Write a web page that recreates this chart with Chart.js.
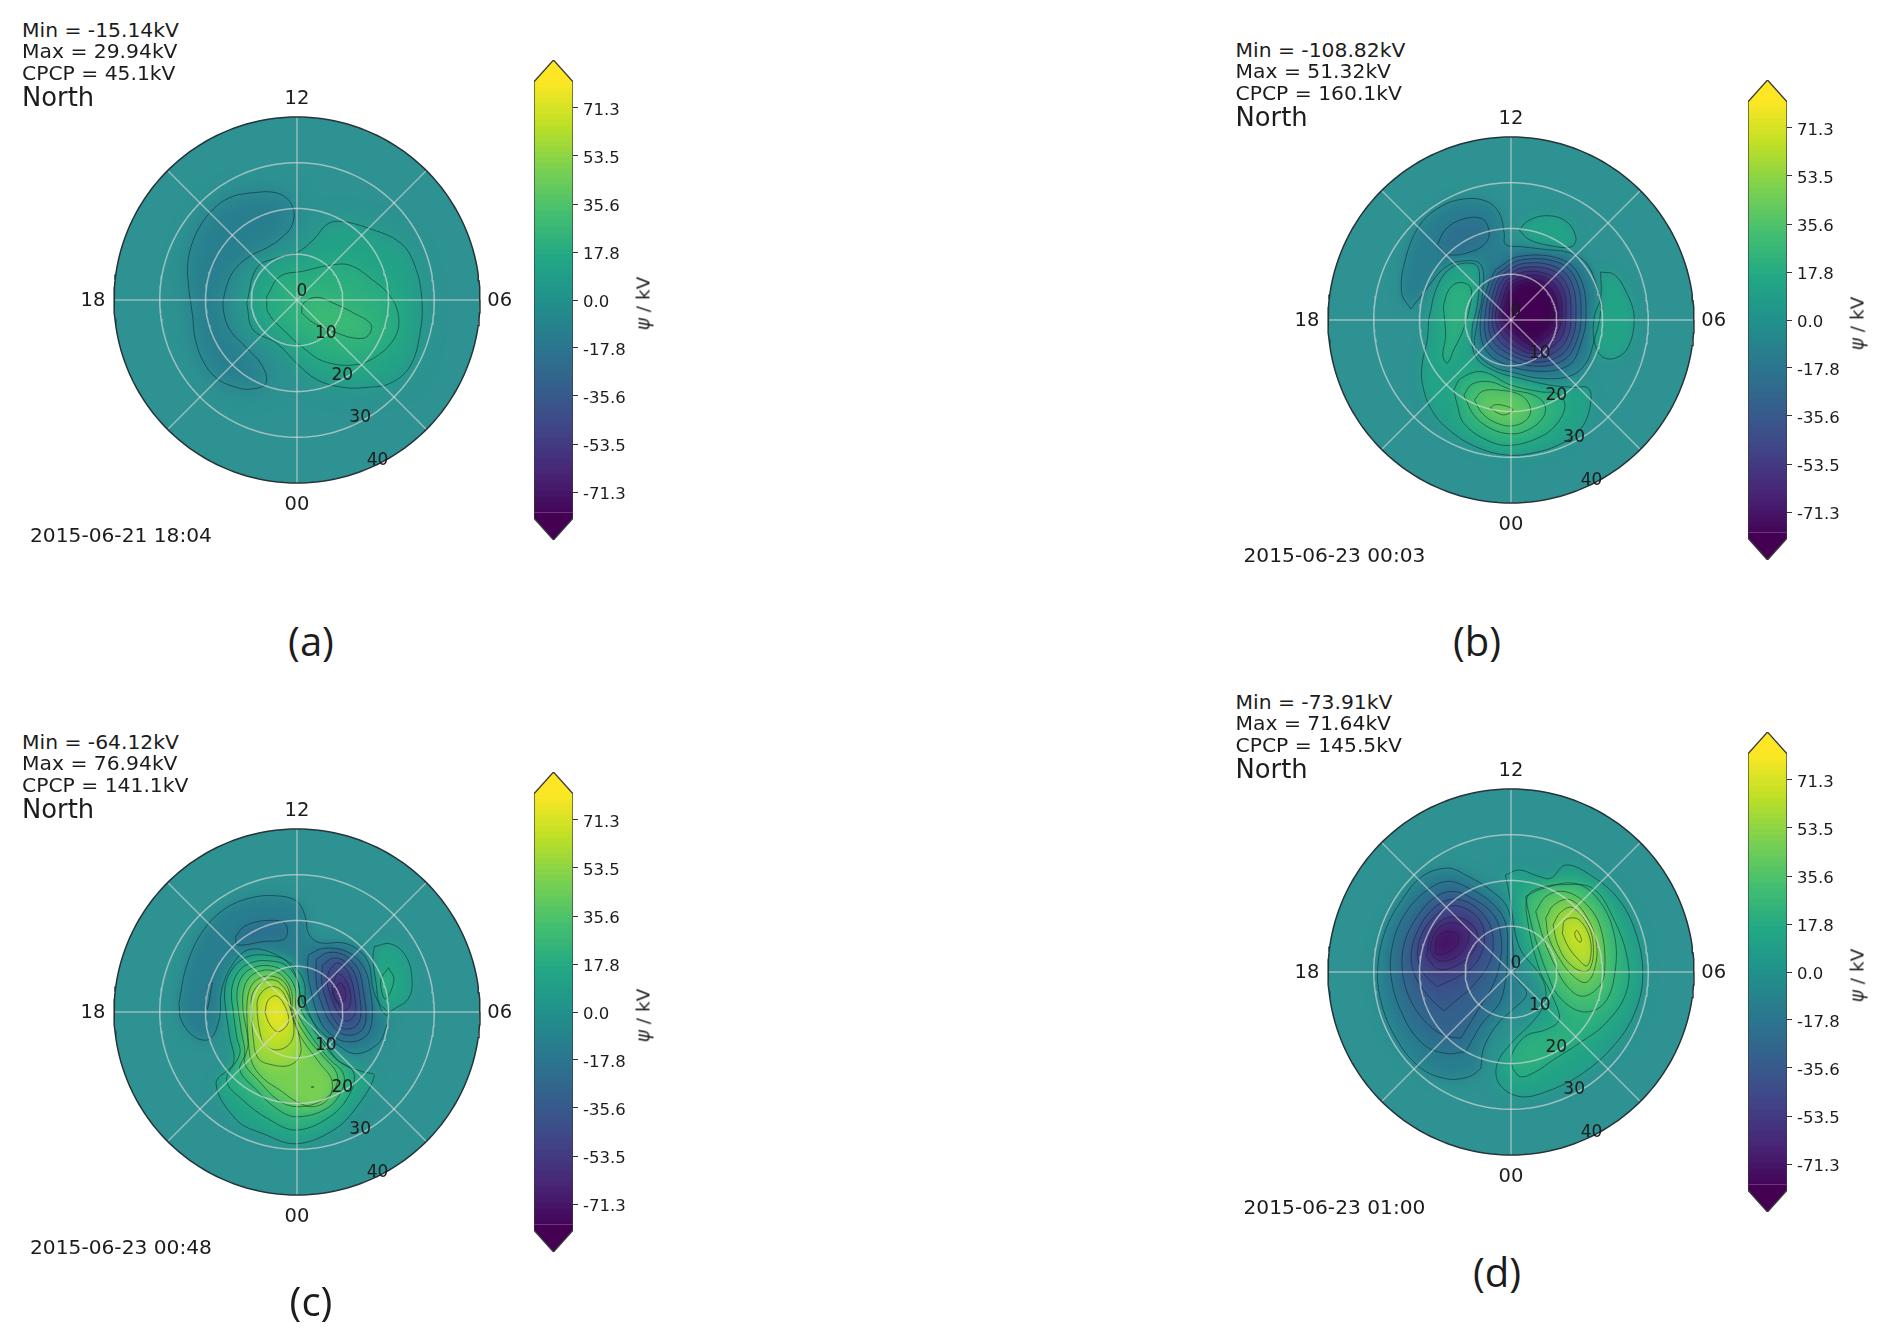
<!DOCTYPE html>
<html>
<head>
<meta charset="utf-8">
<title>Polar potential maps</title>
<script src="https://cdn.jsdelivr.net/npm/chart.js@4"></script>
<style>
  html, body { margin: 0; background: #fff; }
  #page { position: relative; width: 1892px; height: 1344px; overflow: hidden; font-family: "DejaVu Sans", sans-serif; color: #1c1c1c; }
  canvas { position: absolute; }
  .txt { position: absolute; white-space: nowrap; }
</style>
</head>
<body>
<div id="page"></div>
<script>
// Text of each panel
const minLabels = ['Min = -15.14kV', 'Min = -108.82kV', 'Min = -64.12kV', 'Min = -73.91kV'];
const maxLabels = ['Max = 29.94kV', 'Max = 51.32kV', 'Max = 76.94kV', 'Max = 71.64kV'];
const cpcpLabels = ['CPCP = 45.1kV', 'CPCP = 160.1kV', 'CPCP = 141.1kV', 'CPCP = 145.5kV'];
const dateLabels = ['2015-06-21 18:04', '2015-06-23 00:03', '2015-06-23 00:48', '2015-06-23 01:00'];
const captions = ['(a)', '(b)', '(c)', '(d)'];

// Axis labels
const hourLabels = ['12', '06', '00', '18'];
const radialLabels = ['0', '10', '20', '30', '40'];
const colorbarTicks = [71.3, 53.5, 35.6, 17.8, 0, -17.8, -35.6, -53.5, -71.3];

// Contours: level in kV, then x,y pairs in degrees of colatitude
const panelALevels = [-8.9, 8.9, 17.8, 26.7];
const panelAPaths = [
  [-10.3,23.4, -5.5,23.6, -2.3,22.3, -0.7,19.4, -1.2,16.1, -3.4,13.6, -6.6,11.4, -10.3,9.6, -13.9,6.3, -15.8,1.5, -16.1,-2.1, -14.7,-6.5, -11.4,-10.1, -7.7,-14.2, -6.8,-18.2, -10.3,-19.5, -13.9,-18.9, -17.6,-17.1, -20.5,-13.4, -22.3,-8.3, -22.8,-3.6, -23.7,3, -23.8,8.8, -21.6,15.4, -17.6,20.5, -13.9,22.7],
  [-11,-0.7, -9.6,-6.5, -4.5,-9.4, -0.1,-13.8, 4.3,-17.4, 10.1,-19.1, 15.3,-19.1, 20.4,-18.2, 24.7,-14.5, 26.9,-7.2, 27.3,0.1, 25.8,7.4, 22.6,12.5, 15.3,15.8, 9.4,17.2, 6.5,16.5, 3.6,13.2, -0.1,10.3, -4.5,9.2, -8.8,7],
  [-6.6,0.8, -6.3,-2.8, -2.3,-7.2, 1.4,-10.5, 5.8,-13.4, 12.3,-14.2, 17.4,-12.3, 21.5,-8, 22.2,-3.6, 20.4,0.8, 16,4.8, 11.6,7.6, 7.2,7.6, 1.4,6.3, -3.7,5.2],
  [1,-2.8, 1.4,-0.7, 4.3,0.6, 8,-0.7, 12.3,-2.8, 16.2,-5.4, 15.3,-8, 12.3,-8.3, 8,-6.9, 3.6,-5]
];

const panelBLevels = [-8.9, 8.9, 8.9, 8.9, 17.8, 17.8, -17.8, -17.8, -26.7, -35.6, -44.5, -53.4, -62.3, -71.2, -80.1, -89, -98, 26.7, 35.6, 44.5];
const panelBPaths = [
  [-21.9,2.4, -23.9,5.9, -23.1,13.2, -20.1,20.5, -15.8,24.5, -10.7,26.4, -5.5,26, -2.6,23.4, -1.5,19.1, -1.2,16.5, 2.5,16, 7.6,15.4, 12.7,14.7, 16.4,12.5, 18.5,8.1, 19.6,2.3, 18.2,-4.3, 16.4,-9.4, 12.7,-12.3, 6.1,-12.7, 1,-11.6, -4.1,-10.1, -7.7,-6.5, -7.4,-0.7, -6.3,5.2, -6.6,12.1, -11.4,12.8, -15,11, -18,7.4],
  [1.8,19.6, 3.6,21.6, 7.6,22.8, 12,21.6, 14.2,18, 13.1,16, 8.3,16.3, 3.9,17.6],
  [19.6,10.5, 22.6,9.9, 25.1,6.3, 26.9,0.8, 25.7,-5.8, 22.9,-8.3, 19.9,-8, 18.2,-4.7, 18.2,0.8, 19.6,4.8],
  [-18,0.1, -16.1,7.4, -12.8,11.6, -8.1,12.3, -6.9,10.3, -7.4,3, -8.5,-2.1, -7.7,-8, -3.4,-11.2, 1.8,-12.7, 8.3,-14.2, 13.4,-14.7, 16.9,-14.9, 17.4,-18.2, 15.6,-23.3, 11.2,-26.9, 4.7,-29.1, -1.2,-29.5, -7.7,-27.7, -13.6,-24, -17.4,-19.6, -19.4,-13.8, -19.4,-9.4, -18.3,-4.3],
  [-14.8,3, -13.6,6.6, -11.2,8.2, -8.8,7, -9.1,2.3, -10.7,-2.8, -12.5,-6.5, -13.9,-9.4, -14.9,-7.8, -14.3,-3.6],
  [-12.5,-15.3, -11,-12.8, -6.3,-11.3, -0.1,-14.2, 6.5,-15.7, 10.1,-16.1, 11.8,-18.6, 10.1,-22.6, 6.5,-25.5, -0.1,-27.4, -5.2,-26.3, -10.3,-22.6, -11.8,-18.3],
  [-16.1,16.5, -14.3,19.8, -10.7,22, -6.3,22.1, -4.8,19.4, -5.5,16.9, -8.5,15, -13.6,14.3],
  [-3.4,11, 1.8,13.9, 11.2,13.2, 15.3,8.8, 16.4,0.8, 15.3,-5, 12.7,-9.8, 6.1,-11.2, -1.9,-9.4, -5.9,-5.8, -6.6,0.8, -4.8,8.1],
  [-2.8,10.3, 2.1,13.1, 10.5,12.5, 14.3,8.5, 15.3,0.8, 14.3,-4.7, 11.6,-8.7, 5.8,-10.1, -1.2,-8.3, -5,-5, -5.7,0.8, -4.2,7.7],
  [-2.2,9.7, 2.5,12.3, 9.8,11.6, 13.3,8, 14.2,0.8, 13.3,-4.3, 10.7,-7.8, 5.4,-9.2, -0.4,-7.4, -4.1,-4.3, -4.8,0.8, -3.5,7.4],
  [-1.6,9.2, 2.6,11.4, 9.1,10.8, 12.3,7.4, 13.1,0.8, 12.3,-3.9, 9.8,-6.9, 5.3,-8.3, 0.1,-6.6, -3.2,-3.6, -4.1,0.8, -2.8,7],
  [-1,8.7, 2.8,10.5, 8.3,9.9, 11.4,6.8, 12,0.8, 11.2,-3.4, 8.9,-5.9, 5.3,-7.4, 0.9,-5.8, -2.3,-2.8, -3.4,0.8, -2,6.6],
  [-0.4,8.1, 3.1,9.7, 7.6,9.2, 10.5,6.1, 11.1,0.8, 10.1,-2.8, 8,-5, 5,-6.6, 1.5,-4.9, -1.5,-2.1, -2.6,0.8, -1.3,6.1],
  [0.1,7.5, 3.2,8.8, 6.9,8.3, 9.6,5.3, 10.2,0.8, 9.2,-2.1, 7,-4.2, 4.8,-5.6, 2.1,-3.9, -0.6,-1.4, -1.8,0.8, -0.7,5.3],
  [0.9,7, 3.4,8, 6.3,7.4, 8.8,4.6, 9.3,0.7, 8.3,-1.4, 6.1,-3.2, 4.7,-4.7, 2.6,-3, 0.3,-0.7, -0.7,0.8, 0,4.8],
  [1.8,6.3, 3.6,7.2, 5.8,6.6, 8,4.1, 8.5,0.7, 7.4,-1, 5.4,-2.5, 4.3,-3.7, 2.8,-2.1, 1.2,-0.3, 0.4,1.2, 0.9,4.1],
  [2.5,5.2, 3.8,6.1, 5.5,5.5, 7,3.4, 7.4,0.4, 6.3,-0.8, 4.8,-2, 3.8,-2.5, 2.5,-0.7, 1.8,1.2, 1.5,3],
  [-10.3,-16.4, -8.5,-14, -4.5,-13.5, -0.1,-15.2, 5,-16.4, 7.4,-18.6, 6.9,-21.5, 3.6,-24.1, -0.1,-24.9, -4.5,-23.7, -8.1,-20.8],
  [-8,-17.5, -6.3,-15.6, -3,-15.3, 2.1,-16.4, 4.2,-19, 3.7,-21.5, 0.7,-23.1, -3,-22.6, -6.3,-20.4],
  [-4.6,-19.2, -3.4,-18.5, -1.2,-18.8, 0.4,-19.6, -1.2,-20.7, -2.8,-20.4]
];

const panelCLevels = [-8.9, -17.8, -17.8, 8.9, 8.9, 17.8, 17.8, -17.8, -26.7, -35.6, -44.5, -53.4, -62.3, 26.7, 35.6, 44.5, 53.4, 62.3, 71.2, 53.4];
const panelCPaths = [
  [-25.8,1.9, -24.2,9.9, -20.9,17.2, -16.1,22.3, -10.3,24.9, -4.5,25.4, -0.1,24.2, 1.8,20.9, 2.5,17.2, 4.7,15.2, 10.9,14.9, 15.3,11.4, 16.7,4.8, 18,1.8, 19.9,-0.3, 19.3,-3.9, 17.4,-7.2, 12.7,-9.1, 8.3,-6.7, 4.3,-3.2, 1.4,1.9, -0.8,9.2, -4.5,12.5, -10.3,13.7, -13.9,10.7, -16.5,4.8, -16.9,-1, -18.9,-5.8, -22.3,-5.5, -25.3,-1.8],
  [-13.4,16.5, -11.4,18.8, -6.6,20, -2.6,19.3, -2.6,16.1, -7.4,15.4, -13.1,14.7],
  [-18.5,6.4, -19.6,0.6, -19.8,2.6, -19.1,5.8],
  [16.9,14.3, 20.4,14.9, 23.6,12.5, 25.1,7.7, 24.4,3, 20.7,0.3, 19.5,-0.7, 18,1.5, 17.3,6.3, 16.6,11.4],
  [-15.4,-1, -15.8,4.8, -14.3,9.2, -11,12, -6.5,12.4, -1.9,11, 1.4,7, 2.1,1.2, 5.8,-6.1, 9.4,-10.9, 14.5,-13.1, 16.9,-13.9, 13.1,-20.7, 8,-25.8, -0.1,-28.8, -7.4,-26.6, -13.2,-23.6, -17.7,-15.6, -13.9,-11.2, -14.7,-5.4],
  [20,9.7, 21.2,7, 19.3,2.8, 18.3,6.9],
  [-13.9,-0.3, -14.3,4.8, -12.8,8.8, -9.9,10.8, -6.3,11.2, -2.3,10.1, 0.3,6.3, 0.8,0.8, 4.7,-5.4, 8.3,-10.1, 12.3,-13.1, 11.6,-17.8, 7.2,-22.9, -0.1,-25.8, -5.9,-23.6, -11.8,-19.3, -15.4,-14.9, -12.5,-9.1, -13.2,-5.4],
  [2.5,12.5, 5.8,13.9, 10.9,13.2, 14.5,9.9, 16,4.8, 16.4,-1.8, 14.9,-5.4, 10.9,-6.5, 7.2,-4.7, 5,-1.8, 3.2,4.1, 2.3,9.2],
  [4.2,11.5, 6.9,13, 10.5,12.3, 13.4,9.2, 14.5,4.5, 15.1,-1.4, 13.8,-4.3, 10.5,-5, 8,-3.2, 5.9,0.4, 4.3,5.9],
  [5.6,10.3, 8,11.8, 10.5,11, 12.7,8.1, 13.7,3.4, 13.9,-1, 12.7,-3.2, 10.1,-3.6, 8,-1.4, 6.5,2.3, 5.4,6.6],
  [6.9,8.8, 8.7,10.7, 10.5,9.6, 12,6.6, 12.7,2.6, 12.7,-0.3, 10.9,-2, 9.1,-0.3, 7.6,3, 6.6,6.3],
  [8.7,8.5, 10.1,7.7, 11.5,4.8, 11.6,1.5, 10.1,0.3, 8.8,2.3, 7.7,4.8],
  [7.8,4.1, 9.3,6.3, 10.5,5, 10.5,3, 9,1.9],
  [-12.8,0.1, -13.1,4.5, -11.8,8.1, -9.2,9.8, -5.9,10.1, -2.8,8.8, -0.4,5.2, -0.1,0.4, 3.2,-5.4, 6.9,-10.1, 10.1,-13.4, 9.8,-17.1, 6.5,-21.1, -0.1,-22.9, -4.5,-21.1, -9.2,-16.7, -12.5,-12.7, -11.4,-9.1, -12.1,-4.7],
  [-11.8,0.1, -11.8,4.1, -10.7,7.2, -8.5,8.8, -5.5,9.1, -3,7.7, -1.2,4.5, -0.8,0.1, 2.1,-5.4, 5.8,-9.8, 8.7,-13.4, 8.3,-16.7, 5,-19.6, -0.1,-20.7, -4.1,-19.3, -8.5,-14.9, -11.4,-11.2, -10.7,-6.9],
  [-11,0.4, -10.7,3.7, -9.6,6.3, -7.4,7.7, -4.8,7.7, -2.6,6.3, -1.5,3.4, -1.2,-0.3, 0.8,-5.4, 5,-11.2, 7.6,-14.9, 6.9,-18.9, 3.6,-20.7, -0.1,-19.6, -3.7,-17.1, -7.4,-14.5, -9.9,-10.9, -10.7,-5.4],
  [-9.9,0.1, -9.9,3.4, -8.5,5.9, -6.3,7, -4.1,6.6, -1.9,3.7, -0.8,-1, 0.5,-5.4, 0.7,-9.4, -1.5,-11.6, -5.2,-11.6, -8.5,-10.1, -9.6,-5.4],
  [-8.7,-0.3, -8.5,3, -6.3,5.4, -3.7,5, -1.9,1.9, -0.7,-2.8, -1.4,-6.7, -4.5,-8.3, -7.2,-6.9, -8.2,-3.9],
  [-7,-0.1, -6.3,2.6, -4.5,3.5, -2.6,1.2, -1.9,-2.3, -4.1,-4.3, -5.9,-2.8],
  [3.1,-16.4, 3.6,-16.3, 3.6,-16.5]
];

const panelDLevels = [-8.9, -17.8, -26.7, -35.6, -44.5, -53.4, -62.3, -71.2, 8.9, 17.8, 26.7, 35.6, 44.5, 53.4, 62.3, 71.2];
const panelDPaths = [
  [-6.6,-21.1, -9.2,-22.9, -14.3,-23.3, -20.1,-20.7, -25.3,-14.2, -28.5,-6.1, -29.1,1.2, -27.4,9.2, -23.8,15.8, -19.4,20.9, -13.9,22.7, -9.9,21.2, -4.1,17.6, -0.6,13.6, 0.4,5.5, 1,-1, 3.4,-4.7, 0.3,-8.3, -2.6,-10.9, -5.9,-16.4],
  [-9.9,-17.4, -14.3,-17.8, -19.4,-15.6, -23.8,-9.1, -26.2,-1, -25.8,6.3, -23.1,12.8, -18.7,17.6, -13.9,19.8, -9.2,18.3, -4.1,15, -1.2,10.7, -0.8,4.1, -1.2,-1.8, -2.6,-6.9, -6.3,-11.2],
  [-11,-14.5, -14.7,-13.8, -18.7,-10.9, -22.3,-5.4, -23.8,1.2, -23.1,7, -20.5,12.1, -16.9,16.1, -12.8,17.6, -8.5,16.1, -4.1,12.8, -2.3,8.5, -2.3,2.6, -4.1,-3.2, -7.7,-9.1],
  [-14.7,-8.5, -17.6,-5.8, -20.9,-1, -21.8,4.1, -20.1,9.6, -16.9,13.9, -12.8,15.9, -8.5,14.7, -5,11, -3.9,6.6, -4.8,1.9, -8.5,-3.2, -11.8,-6.1],
  [-16.1,-3.2, -19.1,-0.3, -20.4,3.4, -19.4,8.5, -16.1,12.7, -12.8,14.5, -8.8,13.2, -6.3,10.3, -5.9,6.3, -7.7,1.9, -11,-0.7],
  [-18.5,3.4, -17.4,8.5, -14.7,11.5, -11,11.8, -7.7,9.2, -7.7,5.5, -11,1.9, -15.8,0.6],
  [-17.8,4.8, -16.5,8.8, -13.7,10.7, -10.1,9.9, -9.2,7.4, -11.8,3.4, -15.8,2.5],
  [-16.5,5.5, -16,7.7, -13.9,8.8, -11.4,7.9, -12.8,4.8, -16.4,3.9],
  [-1.2,21.2, -0.3,16.5, 1.8,5.5, 6.1,-0.3, 7.6,-3.9, 7,-7.6, 4.7,-10.9, 0.3,-15.3, -3,-20, -2.6,-24.4, 1.8,-27.2, 7.6,-26.2, 15.6,-22.2, 22.9,-15.6, 27.3,-8.3, 28.8,-0.3, 27.3,8.5, 23.6,15.8, 17.8,20.9, 12,23.4, 8.7,20.5, 6.1,20.9, 1.8,22.3],
  [0.3,-21.1, 0.1,-18.2, 3.2,-14, 7.6,-12.6, 10.5,-10.5, 9.4,-6.1, 6.1,0.8, 3.6,11.4, 3.6,16.5, 6.1,18.3, 11.2,19.1, 17.8,18.3, 22.2,12.1, 25.5,2.6, 25.1,-4.7, 20.7,-11.2, 14.9,-15.6, 9.1,-19.3, 5.4,-21.8, 2.1,-22.9],
  [3.2,16.5, 6.5,18.1, 13.8,19.4, 18.9,16.1, 22.5,8.5, 22.7,-0.3, 20.3,-6.9, 15.6,-8.7, 10.5,-5.4, 7.9,-0.3, 5.4,7, 3.9,12.8],
  [5.4,13.2, 7.6,16.5, 11.6,17.6, 16.3,15, 19.6,9.6, 20.5,0.4, 19.2,-3.2, 15.6,-5.3, 12.3,-3.2, 9.7,1.2, 7.2,7],
  [7.6,11.8, 9.4,14.7, 12.9,15.8, 16.3,12.5, 18.7,6.3, 18.1,0.1, 16.3,-2.3, 13.4,-0.7, 10.8,2.6, 8.3,7.4],
  [9.2,10.3, 10.8,13, 13.4,14.1, 16.8,10.3, 18,5.5, 17.3,0.8, 15.6,0.1, 12.3,2.3, 10.1,6.3],
  [11.2,8.5, 11.9,11.4, 14.9,11.4, 17.4,6.6, 16.7,1.4, 14.1,3.4, 12.3,5.9],
  [13.9,8.5, 14.4,9.1, 15.4,7.2, 15.1,6.5, 14.1,7.6]
];

const panelLevels = [panelALevels, panelBLevels, panelCLevels, panelDLevels];
const panelPaths = [panelAPaths, panelBPaths, panelCPaths, panelDPaths];

// Layout, in page pixels
const centerX = [297, 1510.5, 297, 1510.5];
const centerY = [300, 320, 1012, 972];
const captionX = [311, 1477, 311, 1497];
const captionY = [641, 641, 1301, 1272];
const panelBlur = [11, 6, 6, 7];
const DISK = 40;             // outer colatitude
const PX_PER_DEG = 4.575;
const BOX = 500;             // size of the polar canvas
const hourX = [0, 44.3, 0, -44.6];
const hourY = [44.0, -0.1, -44.8, -0.1];
const radialX = [1.1, 6.3, 9.9, 13.8, 17.6];
const radialY = [1.8, -7.4, -16.6, -25.6, -35];
const DISK_COLOR = '#2d9291';

const viridisStops = ['#440154', '#482475', '#414487', '#355f8d', '#2a788e', '#21918c', '#22a884', '#44bf70', '#7ad151', '#bddf26', '#fde725'];

function hexToRgb(h) {
    return [parseInt(h.slice(1, 3), 16), parseInt(h.slice(3, 5), 16), parseInt(h.slice(5, 7), 16)];
}

// kV to colormap colour, the bar runs from -81 to 81
function viridis(kv) {
    const t = Math.min(1, Math.max(0, (kv + 81) / 162)) * (viridisStops.length - 1);
    const i = Math.min(viridisStops.length - 2, Math.floor(t));
    const a = hexToRgb(viridisStops[i]), b = hexToRgb(viridisStops[i + 1]);
    const f = t - i;
    return 'rgb(' + a.map((v, k) => Math.round(v + (b[k] - v) * f)).join(',') + ')';
}

function toPoints(flat) {
    const pts = [];
    for (let i = 0; i < flat.length; i += 2) pts.push({ x: flat[i], y: flat[i + 1] });
    pts.push(pts[0]);
    return pts;
}

function gridDatasets() {
    const out = [];
    [10, 20, 30, 40].forEach(r => {
        const pts = [];
        for (let a = 0; a <= 180; a++) {
            pts.push({ x: r * Math.cos(a * Math.PI / 90), y: r * Math.sin(a * Math.PI / 90) });
        }
        out.push({
            data: pts, showLine: true, pointRadius: 0, tension: 0,
            borderWidth: 1.5,
            borderColor: r === 40 ? '#26343a' : 'rgba(222,222,222,0.62)'
        });
    });
    for (let a = 0; a < 8; a++) {
        const rad = a * Math.PI / 4;
        out.push({
            data: [{ x: 0, y: 0 }, { x: 40 * Math.cos(rad), y: 40 * Math.sin(rad) }],
            showLine: true, pointRadius: 0, tension: 0, borderWidth: 1.4,
            borderColor: 'rgba(222,222,222,0.6)'
        });
    }
    return out;
}

// Fills the contour shapes under the lines, blurred so that the bands run together
const contourFill = {
    id: 'contourFill',
    beforeDatasetsDraw(chart, args, opts) {
        const ctx = chart.ctx, xs = chart.scales.x, ys = chart.scales.y;
        ctx.save();
        if (opts.disk) {
            const cx = xs.getPixelForValue(0), cy = ys.getPixelForValue(0);
            const r = xs.getPixelForValue(DISK) - cx;
            ctx.beginPath();
            ctx.arc(cx, cy, r, 0, Math.PI * 2);
            ctx.fillStyle = DISK_COLOR;
            ctx.fill();
            ctx.clip();
        }
        if (opts.blur) ctx.filter = 'blur(' + opts.blur + 'px)';
        chart.data.datasets.forEach((ds, i) => {
            if (!ds.fillColor) return;
            const line = chart.getDatasetMeta(i).dataset;
            line.updateControlPoints(chart.chartArea);
            ctx.beginPath();
            line.path(ctx);
            ctx.closePath();
            ctx.fillStyle = ds.fillColor;
            ctx.fill();
        });
        ctx.restore();
    }
};

// Hour labels round the rim and colatitude labels down the 00-06 side
const polarLabels = {
    id: 'polarLabels',
    afterDatasetsDraw(chart) {
        const ctx = chart.ctx, xs = chart.scales.x, ys = chart.scales.y;
        ctx.save();
        ctx.fillStyle = '#1c1c1c';
        ctx.textAlign = 'center';
        ctx.textBaseline = 'middle';
        ctx.font = '19.5px "DejaVu Sans"';
        hourLabels.forEach((t, i) => ctx.fillText(t, xs.getPixelForValue(hourX[i]), ys.getPixelForValue(hourY[i])));
        ctx.font = '17px "DejaVu Sans"';
        radialLabels.forEach((t, i) => ctx.fillText(t, xs.getPixelForValue(radialX[i]), ys.getPixelForValue(radialY[i])));
        ctx.restore();
    }
};

const page = document.getElementById('page');

function addCanvas(left, top, w, h) {
    const c = document.createElement('canvas');
    c.width = w;
    c.height = h;
    c.style.left = left + 'px';
    c.style.top = top + 'px';
    page.appendChild(c);
    return c;
}

function addText(text, left, middle, size, extra) {
    const d = document.createElement('div');
    d.className = 'txt';
    d.textContent = text;
    d.style.left = left + 'px';
    d.style.top = (middle - size) + 'px';
    d.style.lineHeight = (size * 2) + 'px';
    d.style.fontSize = size + 'px';
    if (extra) Object.assign(d.style, extra);
    page.appendChild(d);
    return d;
}

function drawPolar(p) {
    const half = BOX / 2 / PX_PER_DEG;
    // weakest contour first, so that the strong ones land on top
    const contours = panelLevels[p].map((level, i) => ({ level, path: panelPaths[p][i] }))
        .sort((a, b) => Math.abs(a.level) - Math.abs(b.level));
    const datasets = gridDatasets().concat(contours.map(c => ({
        data: toPoints(c.path),
        showLine: true,
        pointRadius: 0,
        tension: 0.38,
        borderWidth: 1,
        borderColor: 'rgba(12,38,48,0.55)',
        fillColor: viridis(c.level + Math.sign(c.level) * 3.5)
    })));
    new Chart(addCanvas(centerX[p] - BOX / 2, centerY[p] - BOX / 2, BOX, BOX), {
        type: 'scatter',
        data: { datasets },
        options: {
            responsive: false,
            animation: false,
            events: [],
            layout: { padding: 0 },
            scales: {
                x: { display: false, min: -half, max: half },
                y: { display: false, min: -half, max: half }
            },
            plugins: {
                legend: { display: false },
                tooltip: { enabled: false },
                contourFill: { blur: panelBlur[p], disk: true }
            }
        },
        plugins: [contourFill, polarLabels]
    });
}

function drawColorbar(p) {
    const datasets = [{
        // outline with the two pointed ends
        data: [{ x: 0, y: -81 }, { x: 0, y: 81 }, { x: 0.5, y: 89.1 }, { x: 1, y: 81 }, { x: 1, y: -81 }, { x: 0.5, y: -89.1 }, { x: 0, y: -81 }],
        showLine: true, pointRadius: 0, tension: 0, borderWidth: 1.3, borderColor: '#3a3a3a'
    }];
    datasets.push({
        data: [{ x: 0, y: 80 }, { x: 0, y: 81 }, { x: 0.5, y: 89.1 }, { x: 1, y: 81 }, { x: 1, y: 80 }],
        showLine: true, pointRadius: 0, tension: 0, borderWidth: 0, fillColor: viridis(81)
    });
    datasets.push({
        data: [{ x: 0, y: -79 }, { x: 0, y: -81 }, { x: 0.5, y: -89.1 }, { x: 1, y: -81 }, { x: 1, y: -79 }],
        showLine: true, pointRadius: 0, tension: 0, borderWidth: 0, fillColor: viridis(-81)
    });
    for (let kv = -79; kv < 80; kv += 2) {
        datasets.push({
            data: [{ x: 0, y: kv }, { x: 1, y: kv }, { x: 1, y: kv + 2.6 }, { x: 0, y: kv + 2.6 }],
            showLine: true, pointRadius: 0, tension: 0, borderWidth: 0, fillColor: viridis(kv + 1)
        });
    }
    new Chart(addCanvas(centerX[p] + 227, centerY[p] - 250, 140, 500), {
        type: 'scatter',
        data: { datasets },
        options: {
            responsive: false,
            animation: false,
            events: [],
            layout: { padding: { left: 10, top: 10, bottom: 10, right: 31 } },
            scales: {
                x: { display: false, min: 0, max: 1 },
                y: {
                    position: 'right',
                    min: -89.1,
                    max: 89.1,
                    afterBuildTicks: axis => { axis.ticks = colorbarTicks.map(v => ({ value: v })); },
                    afterFit: axis => { axis.width = 60; axis.paddingTop = 0; axis.paddingBottom = 0; },
                    border: { display: false },
                    grid: { drawOnChartArea: false, drawTicks: true, tickLength: 5, color: '#333' },
                    ticks: {
                        autoSkip: false,
                        padding: 5,
                        labelOffset: 3,
                        color: '#1c1c1c',
                        font: { family: 'DejaVu Sans', size: 16.5 },
                        callback: v => v.toFixed(1)
                    }
                }
            },
            plugins: {
                legend: { display: false },
                tooltip: { enabled: false },
                contourFill: { blur: 0, disk: false }
            }
        },
        plugins: [contourFill]
    });
}

for (let p = 0; p < 4; p++) {
    drawPolar(p);
    drawColorbar(p);

    const tx = centerX[p] - 275, ty = centerY[p];
    addText(minLabels[p], tx, ty - 270, 20.3);
    addText(maxLabels[p], tx, ty - 248.5, 20.3);
    addText(cpcpLabels[p], tx, ty - 227, 20.3);
    addText('North', tx, ty - 202, 25.8);
    addText(dateLabels[p], centerX[p] - 267, ty + 235, 20.2);
    const kv = addText('', centerX[p] + 346, ty + 3, 18.5, { transform: 'translate(-50%,0) rotate(-90deg)' });
    kv.innerHTML = '<i>\u03c8</i> / kV';
    addText(captions[p], captionX[p], captionY[p], 40, { fontFamily: '"Open Sans", sans-serif', transform: 'translateX(-50%)' });
}
</script>
</body>
</html>
